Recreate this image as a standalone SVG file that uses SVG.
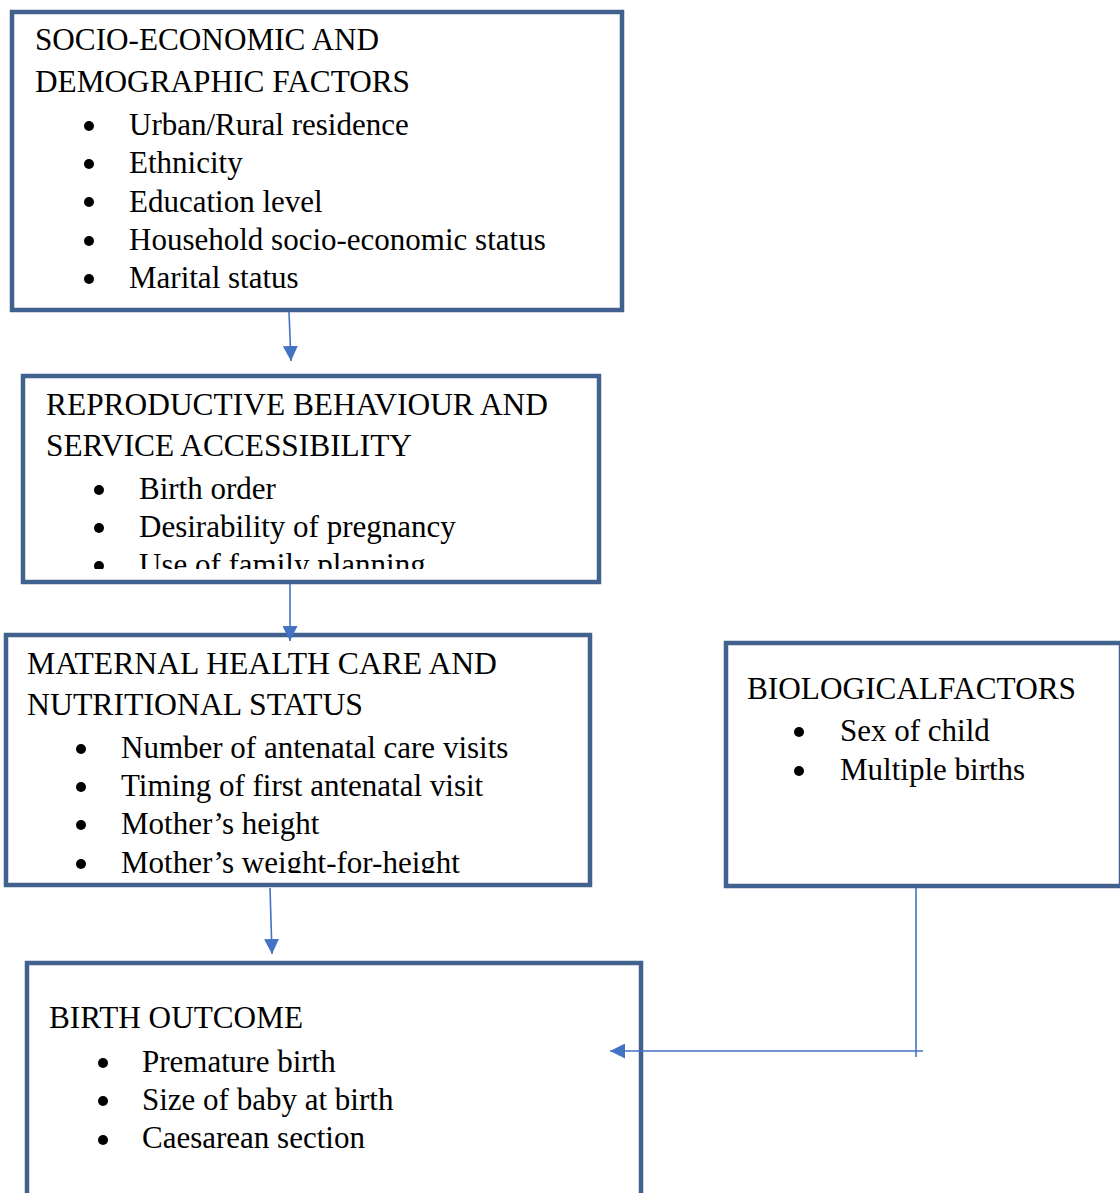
<svg xmlns="http://www.w3.org/2000/svg" width="1120" height="1193" viewBox="0 0 1120 1193">
<style>
.box{fill:#fff;stroke:#41618f;stroke-width:4.5}
.t{font-family:"Liberation Serif","Times New Roman",serif;font-size:31px;fill:#000}
.b{fill:#000}
.c{stroke:#4472c4;stroke-width:1.6;fill:none}
</style>
<defs>
<marker id="ah" viewBox="0 0 10 10" refX="10" refY="5" markerWidth="15" markerHeight="15" markerUnits="userSpaceOnUse" orient="auto">
<path d="M0,0 L10,5 L0,10 Z" fill="#4472c4"/>
</marker>
<clipPath id="clip2"><rect x="20" y="370" width="590" height="199"/></clipPath>
<clipPath id="clip3"><rect x="0" y="630" width="600" height="243"/></clipPath>
</defs>
<rect width="1120" height="1193" fill="#fff"/>

<g id="socio">
<rect class="box" x="12" y="12" width="610" height="298"/>
<text class="t" x="35" y="50" textLength="344" lengthAdjust="spacingAndGlyphs">SOCIO-ECONOMIC AND</text>
<text class="t" x="35" y="92" textLength="375" lengthAdjust="spacingAndGlyphs">DEMOGRAPHIC FACTORS</text>
<circle class="b" cx="89" cy="126" r="5"/><text class="t" x="129" y="135">Urban/Rural residence</text>
<circle class="b" cx="89" cy="164" r="5"/><text class="t" x="129" y="173">Ethnicity</text>
<circle class="b" cx="89" cy="202" r="5"/><text class="t" x="129" y="212">Education level</text>
<circle class="b" cx="89" cy="241" r="5"/><text class="t" x="129" y="250">Household socio-economic status</text>
<circle class="b" cx="89" cy="279" r="5"/><text class="t" x="129" y="288">Marital status</text>
</g>

<g id="reproductive">
<rect class="box" x="23" y="376" width="576" height="206"/>
<g clip-path="url(#clip2)">
<text class="t" x="46" y="415" textLength="502" lengthAdjust="spacingAndGlyphs">REPRODUCTIVE BEHAVIOUR AND</text>
<text class="t" x="46" y="456" textLength="366" lengthAdjust="spacingAndGlyphs">SERVICE ACCESSIBILITY</text>
<circle class="b" cx="99" cy="490" r="5"/><text class="t" x="139" y="499">Birth order</text>
<circle class="b" cx="99" cy="528" r="5"/><text class="t" x="139" y="537">Desirability of pregnancy</text>
<circle class="b" cx="99" cy="566" r="5"/><text class="t" x="139" y="575">Use of family planning</text>
</g>
</g>

<g id="maternal">
<rect class="box" x="6" y="635" width="584" height="250"/>
<g clip-path="url(#clip3)">
<text class="t" x="27" y="674" textLength="470" lengthAdjust="spacingAndGlyphs">MATERNAL HEALTH CARE AND</text>
<text class="t" x="27" y="715" textLength="336" lengthAdjust="spacingAndGlyphs">NUTRITIONAL STATUS</text>
<circle class="b" cx="81" cy="749" r="5"/><text class="t" x="121" y="758">Number of antenatal care visits</text>
<circle class="b" cx="81" cy="787" r="5"/><text class="t" x="121" y="796">Timing of first antenatal visit</text>
<circle class="b" cx="81" cy="825" r="5"/><text class="t" x="121" y="834">Mother’s height</text>
<circle class="b" cx="81" cy="864" r="5"/><text class="t" x="121" y="873">Mother’s weight-for-height</text>
</g>
</g>

<g id="biological">
<rect class="box" x="726" y="643" width="395" height="243"/>
<text class="t" x="747" y="699" textLength="329" lengthAdjust="spacingAndGlyphs">BIOLOGICALFACTORS</text>
<circle class="b" cx="799" cy="732" r="5"/><text class="t" x="840" y="741">Sex of child</text>
<circle class="b" cx="799" cy="771" r="5"/><text class="t" x="840" y="780">Multiple births</text>
</g>

<g id="outcome">
<rect class="box" x="27" y="963" width="614" height="260"/>
<text class="t" x="49" y="1028" textLength="254" lengthAdjust="spacingAndGlyphs">BIRTH OUTCOME</text>
<circle class="b" cx="103" cy="1063" r="5"/><text class="t" x="142" y="1072">Premature birth</text>
<circle class="b" cx="103" cy="1101" r="5"/><text class="t" x="142" y="1110">Size of baby at birth</text>
<circle class="b" cx="103" cy="1140" r="5"/><text class="t" x="142" y="1148">Caesarean section</text>
</g>

<g id="connectors">
<line class="c" x1="289" y1="312" x2="291" y2="361" marker-end="url(#ah)"/>
<line class="c" x1="290" y1="584" x2="290" y2="641" marker-end="url(#ah)"/>
<line class="c" x1="270" y1="888" x2="272" y2="954" marker-end="url(#ah)"/>
<line class="c" x1="916" y1="888" x2="916" y2="1057"/>
<line class="c" x1="923" y1="1051" x2="610" y2="1051" marker-end="url(#ah)"/>
</g>
</svg>
